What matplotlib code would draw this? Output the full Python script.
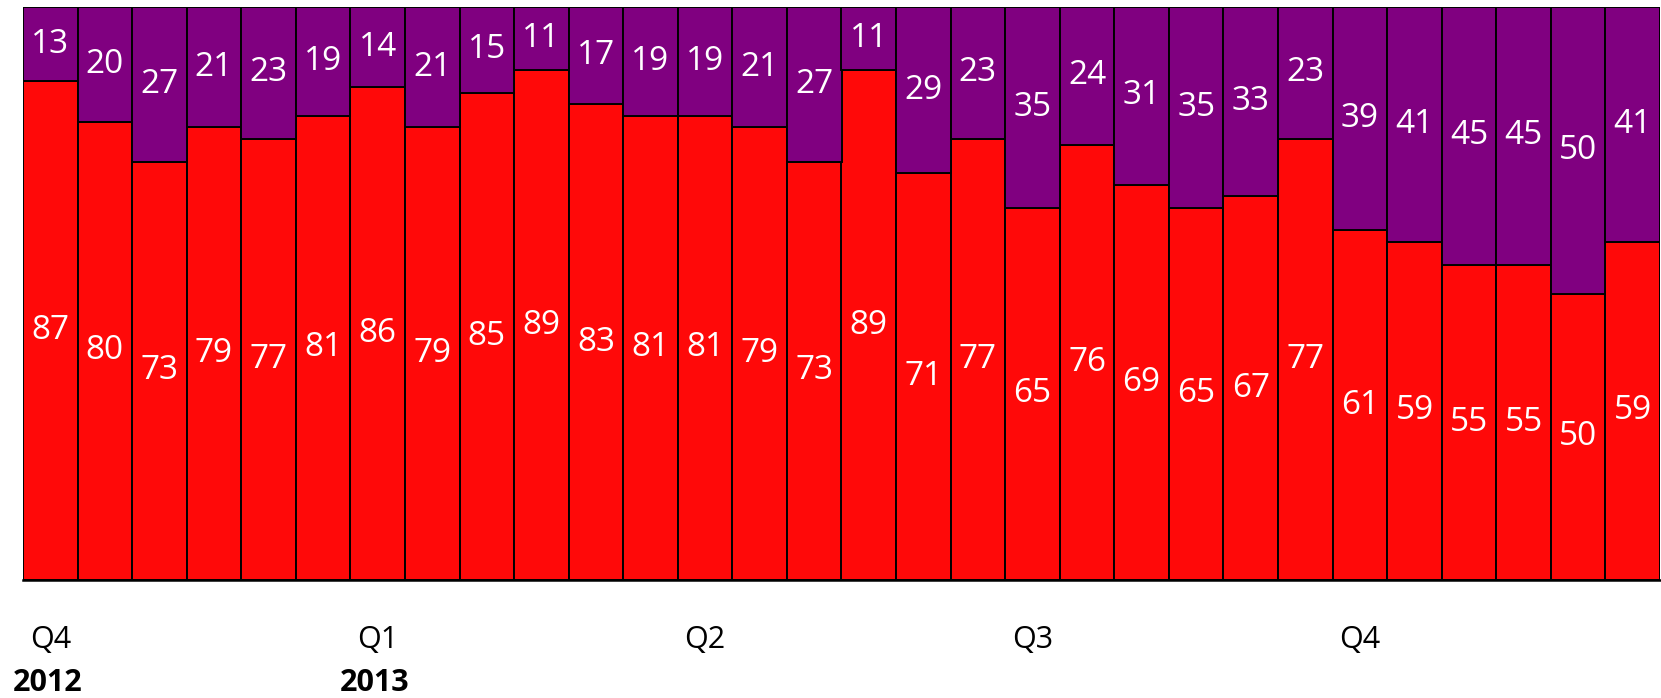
import matplotlib
matplotlib.use('Agg')
import matplotlib.pyplot as plt
import matplotlib.transforms as mtransforms
import numpy as np

red_vals = [87, 80, 73, 79, 77, 81, 86, 79, 85, 89, 83, 81, 81, 79, 73,
            89, 71, 77, 65, 76, 69, 65, 67, 77, 61, 59, 55, 55, 50, 59]
purple_vals = [13, 20, 27, 21, 23, 19, 14, 21, 15, 11, 17, 19, 19, 21, 27,
               11, 29, 23, 35, 24, 31, 35, 33, 23, 39, 41, 45, 45, 50, 41]
quarter_pos = [0, 6, 12, 18, 24]
quarter_labels = ['Q4', 'Q1', 'Q2', 'Q3', 'Q4']
year_pos = [0, 6]
year_labels = ['2012', '2013']

plt.rcParams['font.family'] = ['Open Sans', 'DejaVu Sans']

red = '#FF0909'
purple = '#800080'

fig = plt.figure(figsize=(16.61, 6.98), dpi=100)
ax = fig.add_axes([23 / 1661, 118 / 698, 1637 / 1661, 573 / 698])

x = np.arange(len(red_vals))
red_arr = np.array(red_vals)
pur_arr = np.array(purple_vals)

ax.bar(x, red_arr, width=1.0, color=red, edgecolor='black', linewidth=1.4)
ax.bar(x, pur_arr, width=1.0, bottom=red_arr, color=purple, edgecolor='black', linewidth=1.4)

for i in range(len(x)):
    ax.text(x[i], red_arr[i] / 2, str(red_arr[i]), ha='center', va='center',
            color='white', fontsize=24)
    ax.text(x[i], red_arr[i] + pur_arr[i] / 2, str(pur_arr[i]), ha='center', va='center',
            color='white', fontsize=24)

ax.set_xlim(-0.5, len(x) - 0.5)
ax.set_ylim(0, 100)
ax.set_xticks([])
ax.set_yticks([])
for s in ax.spines.values():
    s.set_visible(False)
ax.plot([-0.5, len(x) - 0.5], [0, 0], color='black', lw=1.8, clip_on=False)

trans = mtransforms.blended_transform_factory(ax.transData, ax.transAxes)
for p, lab in zip(quarter_pos, quarter_labels):
    ax.text(p, -0.105, lab, transform=trans, ha='center', va='center',
            fontsize=22, color='black')
for p, lab in zip(year_pos, year_labels):
    ax.text(p - 0.05, -0.18, lab, transform=trans, ha='center', va='center',
            fontsize=22, fontweight='bold', color='black')

fig.savefig('out.png', dpi=100)
